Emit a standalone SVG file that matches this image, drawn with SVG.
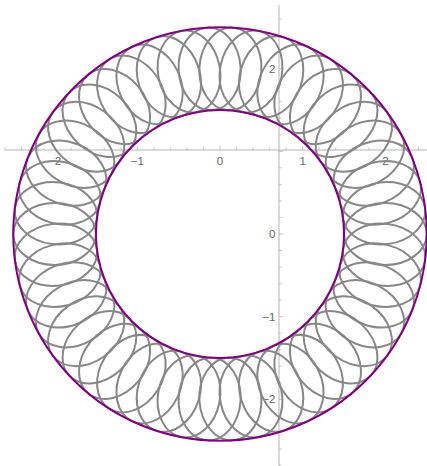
<svg xmlns="http://www.w3.org/2000/svg" width="427" height="466" viewBox="0 0 427 466">
<style>
.ax{stroke:#b3b3b3;stroke-width:1;fill:none}
.tk{stroke:#b3b3b3;stroke-width:0.8;fill:none}
.lb{font-family:"Liberation Sans",Arial,sans-serif;font-size:11.5px;fill:#666666}
.lx{text-anchor:middle}
.ly{text-anchor:end}
.el{fill:none;stroke:#878787;stroke-width:2}
.cr{fill:none;stroke:#800080;stroke-width:2}
</style>
<defs>
<ellipse id="e" class="el" cx="385.4" cy="234" rx="41.35" ry="31"/>
</defs>
<rect width="427" height="466" fill="#ffffff"/>
<g id="axes">
<path class="ax" d="M5,150H427M279,5V466"/>
<path class="tk" d="M54.6,150v-4M137.3,150v-4M220,150v-4M302.7,150v-4M385.4,150v-4
M5,150v-2.5M21.5,150v-2.5M38.1,150v-2.5M71.1,150v-2.5M87.7,150v-2.5M104.2,150v-2.5M120.8,150v-2.5M153.8,150v-2.5M170.4,150v-2.5M186.9,150v-2.5M203.5,150v-2.5M236.5,150v-2.5M253.1,150v-2.5M269.6,150v-2.5M286.2,150v-2.5M319.2,150v-2.5M335.8,150v-2.5M352.3,150v-2.5M368.9,150v-2.5M401.9,150v-2.5M418.5,150v-2.5
M279,68.6h4M279,151.3h4M279,234h4M279,316.7h4M279,399.4h4
M279,19h2.5M279,35.5h2.5M279,52.1h2.5M279,85.1h2.5M279,101.7h2.5M279,118.2h2.5M279,134.8h2.5M279,167.8h2.5M279,184.4h2.5M279,200.9h2.5M279,217.5h2.5M279,250.5h2.5M279,267.1h2.5M279,283.6h2.5M279,300.2h2.5M279,333.2h2.5M279,349.8h2.5M279,366.3h2.5M279,382.9h2.5M279,415.9h2.5M279,432.5h2.5M279,449h2.5M279,465.6h2.5"/>
<text class="lb lx" x="54.6" y="165">−2</text>
<text class="lb lx" x="137.3" y="165">−1</text>
<text class="lb lx" x="220" y="165">0</text>
<text class="lb lx" x="302.7" y="165">1</text>
<text class="lb lx" x="385.4" y="165">2</text>
<text class="lb ly" x="275.5" y="72.6">2</text>
<text class="lb ly" x="275.5" y="238">0</text>
<text class="lb ly" x="275.5" y="320.7">−1</text>
<text class="lb ly" x="275.5" y="403.4">−2</text>
</g>
<g id="ellipses">
<use href="#e" transform="rotate(0 220 234)"/>
<use href="#e" transform="rotate(7.2 220 234)"/>
<use href="#e" transform="rotate(14.4 220 234)"/>
<use href="#e" transform="rotate(21.6 220 234)"/>
<use href="#e" transform="rotate(28.8 220 234)"/>
<use href="#e" transform="rotate(36 220 234)"/>
<use href="#e" transform="rotate(43.2 220 234)"/>
<use href="#e" transform="rotate(50.4 220 234)"/>
<use href="#e" transform="rotate(57.6 220 234)"/>
<use href="#e" transform="rotate(64.8 220 234)"/>
<use href="#e" transform="rotate(72 220 234)"/>
<use href="#e" transform="rotate(79.2 220 234)"/>
<use href="#e" transform="rotate(86.4 220 234)"/>
<use href="#e" transform="rotate(93.6 220 234)"/>
<use href="#e" transform="rotate(100.8 220 234)"/>
<use href="#e" transform="rotate(108 220 234)"/>
<use href="#e" transform="rotate(115.2 220 234)"/>
<use href="#e" transform="rotate(122.4 220 234)"/>
<use href="#e" transform="rotate(129.6 220 234)"/>
<use href="#e" transform="rotate(136.8 220 234)"/>
<use href="#e" transform="rotate(144 220 234)"/>
<use href="#e" transform="rotate(151.2 220 234)"/>
<use href="#e" transform="rotate(158.4 220 234)"/>
<use href="#e" transform="rotate(165.6 220 234)"/>
<use href="#e" transform="rotate(172.8 220 234)"/>
<use href="#e" transform="rotate(180 220 234)"/>
<use href="#e" transform="rotate(187.2 220 234)"/>
<use href="#e" transform="rotate(194.4 220 234)"/>
<use href="#e" transform="rotate(201.6 220 234)"/>
<use href="#e" transform="rotate(208.8 220 234)"/>
<use href="#e" transform="rotate(216 220 234)"/>
<use href="#e" transform="rotate(223.2 220 234)"/>
<use href="#e" transform="rotate(230.4 220 234)"/>
<use href="#e" transform="rotate(237.6 220 234)"/>
<use href="#e" transform="rotate(244.8 220 234)"/>
<use href="#e" transform="rotate(252 220 234)"/>
<use href="#e" transform="rotate(259.2 220 234)"/>
<use href="#e" transform="rotate(266.4 220 234)"/>
<use href="#e" transform="rotate(273.6 220 234)"/>
<use href="#e" transform="rotate(280.8 220 234)"/>
<use href="#e" transform="rotate(288 220 234)"/>
<use href="#e" transform="rotate(295.2 220 234)"/>
<use href="#e" transform="rotate(302.4 220 234)"/>
<use href="#e" transform="rotate(309.6 220 234)"/>
<use href="#e" transform="rotate(316.8 220 234)"/>
<use href="#e" transform="rotate(324 220 234)"/>
<use href="#e" transform="rotate(331.2 220 234)"/>
<use href="#e" transform="rotate(338.4 220 234)"/>
<use href="#e" transform="rotate(345.6 220 234)"/>
<use href="#e" transform="rotate(352.8 220 234)"/>
</g>
<g id="circles">
<circle id="outer" class="cr" cx="220" cy="234" r="206.75"/>
<circle id="inner" class="cr" cx="220" cy="234" r="124.05"/>
</g>
</svg>
